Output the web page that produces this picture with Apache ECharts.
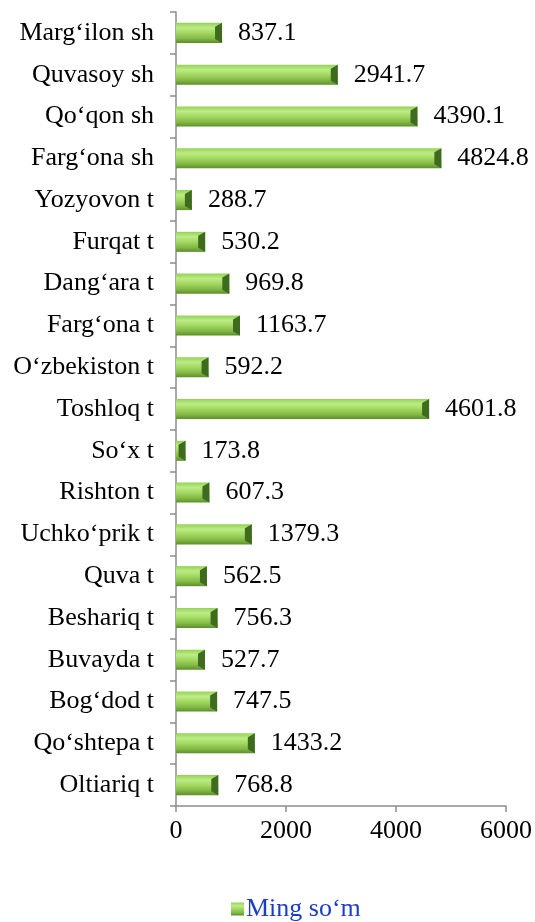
<!DOCTYPE html>
<html>
<head>
    <meta charset="utf-8">
    <title>Ming so‘m</title>
    <script type="text/javascript" src="https://cdn.jsdelivr.net/npm/echarts@6/dist/echarts.min.js"></script>
    <style>
        html, body { margin: 0; padding: 0; background: #fff; }
    </style>
</head>
<body>
    <div id="main" style="width:535px; height:922px;"></div>
    <script type="text/javascript">

    // kategoriyalar (pastdan yuqoriga)
    var categories = [
        'Oltiariq t', 'Qo‘shtepa t', 'Bog‘dod t', 'Buvayda t', 'Beshariq t',
        'Quva t', 'Uchko‘prik t', 'Rishton t', 'So‘x t', 'Toshloq t',
        'O‘zbekiston t', 'Farg‘ona t', 'Dang‘ara t', 'Furqat t', 'Yozyovon t',
        'Farg‘ona sh', 'Qo‘qon sh', 'Quvasoy sh', 'Marg‘ilon sh'
    ];
    var values = [
        768.8, 1433.2, 747.5, 527.7, 756.3,
        562.5, 1379.3, 607.3, 173.8, 4601.8,
        592.2, 1163.7, 969.8, 530.2, 288.7,
        4824.8, 4390.1, 2941.7, 837.1
    ];
    var seriesName = 'Ming so‘m';
    var xTicks = [0, 2000, 4000, 6000];

    var myChart = echarts.init(document.getElementById('main'));

    // bo'rtma (3D) ko'rinish uchun gradient
    var barColor = new echarts.graphic.LinearGradient(0, 0, 0, 1, [
        {offset: 0, color: '#94d255'},
        {offset: 0.25, color: '#bdec86'},
        {offset: 0.5, color: '#a3d862'},
        {offset: 0.78, color: '#82b845'},
        {offset: 1, color: '#5d8e2c'}
    ]);

    // barning o'ng uchidagi qoramtir qirra
    function renderCap(params, api) {
        var end = api.coord([api.value(0), api.value(1)]);
        var bw = api.size([0, 1])[1] * 0.48;
        var y0 = end[1] - bw / 2;
        var w = Math.min(7, Math.max(2, end[0] - params.coordSys.x - 1));
        return {
            type: 'polygon',
            shape: {
                points: [
                    [end[0] - w, y0 + 4],
                    [end[0], y0],
                    [end[0], y0 + bw],
                    [end[0] - w, y0 + bw - 4]
                ]
            },
            style: { fill: '#3f6b1f' },
            silent: true
        };
    }

    var option = {
        backgroundColor: '#fff',
        textStyle: { fontFamily: 'Liberation Serif' },
        legend: {
            bottom: 0,
            left: 231,
            padding: 0,
            icon: 'rect',
            itemWidth: 13,
            itemHeight: 13,
            data: [seriesName],
            textStyle: {
                color: '#1a3fc4',
                fontSize: 26,
                padding: [0, 0, 0, -3],
                fontFamily: 'Liberation Serif'
            }
        },
        grid: {
            left: 176,
            right: 29,
            top: 12,
            bottom: 116,
            containLabel: false
        },
        xAxis: {
            type: 'value',
            min: xTicks[0],
            max: xTicks[xTicks.length - 1],
            interval: 2000,
            axisLine: { show: true, lineStyle: { color: '#8c8c8c', width: 1.5 } },
            axisTick: { show: true, length: 6, lineStyle: { color: '#8c8c8c', width: 1.5 } },
            splitLine: { show: false },
            axisLabel: {
                color: '#000',
                fontSize: 26,
                margin: 12,
                fontFamily: 'Liberation Serif',
                formatter: function (v) { return String(v); }
            }
        },
        yAxis: {
            type: 'category',
            data: categories,
            axisLine: { show: true, lineStyle: { color: '#8c8c8c', width: 1.5 } },
            axisTick: { show: true, length: 6, lineStyle: { color: '#8c8c8c', width: 1.5 } },
            axisLabel: {
                color: '#000',
                fontSize: 26,
                margin: 22,
                fontFamily: 'Liberation Serif'
            }
        },
        series: [{
            name: seriesName,
            type: 'bar',
            data: values,
            barWidth: '48%',
            itemStyle: {
                color: barColor
            },
            label: {
                show: true,
                position: 'right',
                distance: 16,
                color: '#000',
                fontSize: 26,
                fontFamily: 'Liberation Serif',
                formatter: function (p) {
                    return p.value.toFixed(1);
                }
            }
        }, {
            name: 'cap',
            type: 'custom',
            renderItem: renderCap,
            encode: { x: 0, y: 1 },
            silent: true,
            z: 3,
            data: values.map(function (v, i) { return [v, i]; })
        }]
    };

    myChart.setOption(option);
    </script>
</body>
</html>
